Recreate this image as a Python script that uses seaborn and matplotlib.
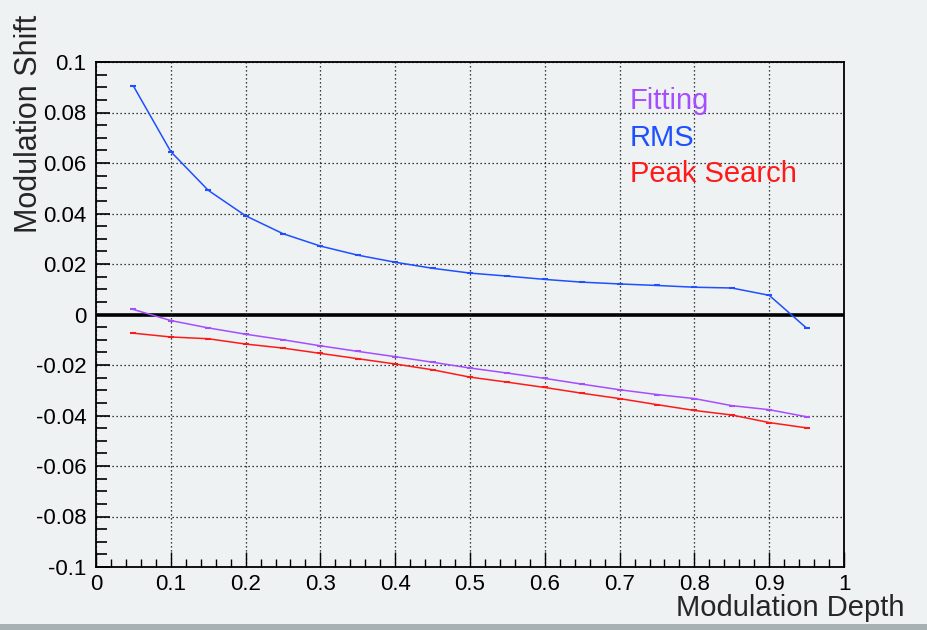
import numpy as np
import pandas as pd
import matplotlib
matplotlib.use("Agg")
import matplotlib.pyplot as plt
import seaborn as sns
from matplotlib.ticker import MultipleLocator, FuncFormatter
from matplotlib.patches import Rectangle

# Modulation shift vs modulation depth for the three methods
depth = [0.05, 0.10, 0.15, 0.20, 0.25, 0.30, 0.35, 0.40, 0.45, 0.50,
         0.55, 0.60, 0.65, 0.70, 0.75, 0.80, 0.85, 0.90, 0.95]
fitting = [0.0020, -0.0024, -0.0053, -0.0078, -0.0100, -0.0124, -0.0146, -0.0167, -0.0189, -0.0212,
           -0.0232, -0.0253, -0.0276, -0.0298, -0.0317, -0.0333, -0.0361, -0.0377, -0.0405]
rms = [0.0905, 0.0645, 0.0492, 0.0391, 0.0320, 0.0271, 0.0235, 0.0207, 0.0183, 0.0164,
       0.0152, 0.0139, 0.0128, 0.0121, 0.0115, 0.0108, 0.0105, 0.0076, -0.0054]
peak_search = [-0.0074, -0.0089, -0.0096, -0.0117, -0.0133, -0.0154, -0.0175, -0.0196, -0.0219, -0.0248,
               -0.0268, -0.0289, -0.0312, -0.0333, -0.0357, -0.0380, -0.0398, -0.0428, -0.0449]

methods = ["Fitting", "RMS", "Peak Search"]
colors = {"Fitting": "#a64dff", "RMS": "#1f4fff", "Peak Search": "#ff1a1a"}

df = pd.DataFrame({
    "depth": depth * 3,
    "shift": fitting + rms + peak_search,
    "method": ["Fitting"] * len(depth) + ["RMS"] * len(depth) + ["Peak Search"] * len(depth),
})

sns.set_style("white")
plt.rcParams["font.family"] = ["Liberation Sans", "DejaVu Sans"]
plt.rcParams["axes.unicode_minus"] = False

bg = "#eef2f3"
fig = plt.figure(figsize=(9.27, 6.3), dpi=100, facecolor=bg)
ax = fig.add_axes([96 / 927, 1 - 567 / 630, 748 / 927, 505 / 630])
ax.set_facecolor(bg)

# gray strip at the bottom of the canvas
fig.patches.append(Rectangle((0, 0), 1, 6 / 630, transform=fig.transFigure,
                             facecolor="#a7b1b3", edgecolor="none", zorder=0))

sns.lineplot(data=df, x="depth", y="shift", hue="method", hue_order=methods,
             palette=colors, marker="_", markersize=5, markeredgewidth=1.5,
             linewidth=1.1, legend=False, ax=ax, zorder=3)
# seaborn draws white marker edges; give the dashes the line colour instead
for ln in ax.get_lines():
    ln.set_markeredgecolor(ln.get_color())

ax.axhline(0, color="black", lw=2.6, zorder=2)

ax.set_xlim(0, 1)
ax.set_ylim(-0.1, 0.1)
ax.xaxis.set_major_locator(MultipleLocator(0.1))
ax.xaxis.set_minor_locator(MultipleLocator(0.02))
ax.yaxis.set_major_locator(MultipleLocator(0.02))
ax.yaxis.set_minor_locator(MultipleLocator(0.005))
fmt = FuncFormatter(lambda v, p: "%g" % (round(v, 3) + 0.0))
ax.xaxis.set_major_formatter(fmt)
ax.yaxis.set_major_formatter(fmt)

ax.tick_params(axis="both", which="both", direction="in", top=False, right=False,
               bottom=True, left=True, labelsize=16, colors="black")
ax.tick_params(axis="x", which="major", length=11, width=1, pad=5)
ax.tick_params(axis="x", which="minor", length=6, width=1)
ax.tick_params(axis="y", which="major", length=10, width=1.2, pad=7)
ax.tick_params(axis="y", which="minor", length=8, width=1.2)

ax.grid(True, which="major", color="black", linestyle=(0, (1, 2.2)), linewidth=0.9)
for s in ax.spines.values():
    s.set_color("black")
    s.set_linewidth(1.3)

ax.set_xlabel("Modulation Depth", fontsize=21, ha="right")
ax.xaxis.set_label_coords(1.081, -0.054)
ax.set_ylabel("Modulation Shift", fontsize=22, loc="top")
ax.yaxis.set_label_coords(-0.07, 1.093)

# legend written as coloured text
legend_y = [1 - 109 / 630, 1 - 146 / 630, 1 - 182 / 630]
for name, y in zip(methods, legend_y):
    fig.text(630 / 927, y, name, color=colors[name], fontsize=21, va="baseline", ha="left")

fig.savefig("out.png", dpi=100, facecolor=bg)
